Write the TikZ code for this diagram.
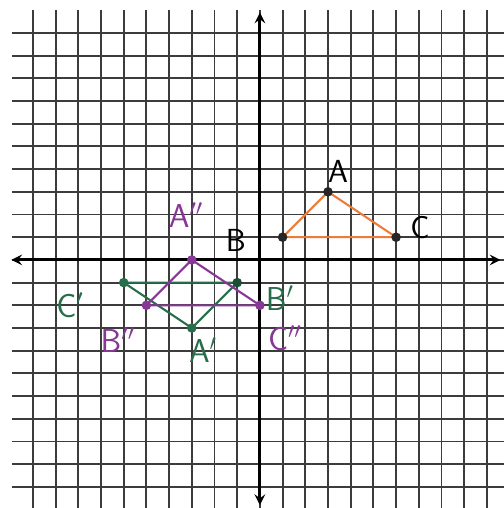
\documentclass[tikz,border=0pt]{standalone}
\usepackage{tikz}

\definecolor{pencil}{RGB}{60,60,60}
\definecolor{orangeink}{RGB}{235,125,60}
\definecolor{greenink}{RGB}{40,110,75}
\definecolor{purpleink}{RGB}{135,55,150}

\tikzset{
  gridline/.style={pencil, line width=1.2pt},
  axis/.style={black, line width=1.9pt, >=stealth},
  side/.style={line width=1.3pt},
  dot/.style={circle, fill, inner sep=0pt, minimum size=6pt},
  lbl/.style={font=\fontsize{20}{24}\selectfont\sffamily}
}

\begin{document}
\begin{tikzpicture}[x=0.5cm,y=0.5cm]
    \useasboundingbox (-11.45,-10.93) rectangle (10.75,11.45);
    \fill[white] (-11.45,-10.93) rectangle (10.75,11.45);

    % grid
    \foreach \k in {-10,...,10} {
      \draw[gridline] (-10.9,\k) -- (10.75,\k);
      \draw[gridline] (\k,11.0) -- (\k,-10.93);
    }

    % axes
    \draw[axis,<->] (-10.95,0) -- (10.6,0);
    \draw[axis,<->] (0,-10.8) -- (0,10.9);

    % original triangle
    \coordinate (A) at (3,3);
    \coordinate (B) at (1,1);
    \coordinate (C) at (6,1);
    \draw[side, orangeink] (A) -- (B) -- (C) -- cycle;

    % first image
    \coordinate (A1) at (-3,-3);
    \coordinate (B1) at (-1,-1);
    \coordinate (C1) at (-6,-1);
    \draw[side, greenink] (A1) -- (B1) -- (C1) -- cycle;

    % second image
    \coordinate (A2) at (-3,0);
    \coordinate (B2) at (-5,-2);
    \coordinate (C2) at (0,-2);
    \draw[side, purpleink] (A2) -- (B2) -- (C2) -- cycle;

    \node[dot, black!85] at (A) {};
    \node[dot, black!85] at (B) {};
    \node[dot, black!85] at (C) {};
    \node[dot, greenink] at (A1) {};
    \node[dot, greenink!70!black] at (B1) {};
    \node[dot, greenink] at (C1) {};
    \node[dot, purpleink] at (A2) {};
    \node[dot, purpleink] at (B2) {};
    \node[dot, purpleink] at (C2) {};

    % labels
    \node[lbl] (lA) at (3.44,3.88) {A};
    \node[lbl] (lB) at (-1.06,0.88) {B};
    \node[lbl] (lC) at (7.05,1.41) {C};
    \node[lbl, greenink] (lA1) at (-2.51,-3.96) {$\mathsf{A}'$};
    \node[lbl, greenink] (lB1) at (0.88,-1.67) {$\mathsf{B}'$};
    \node[lbl, greenink] (lC1) at (-8.37,-1.98) {$\mathsf{C}'$};
    \node[lbl, purpleink] (lA2) at (-3.26,1.98) {$\mathsf{A}''$};
    \node[lbl, purpleink] (lB2) at (-6.26,-3.52) {$\mathsf{B}''$};
    \node[lbl, purpleink] (lC2) at (1.1,-3.44) {$\mathsf{C}''$};
\end{tikzpicture}
\end{document}
